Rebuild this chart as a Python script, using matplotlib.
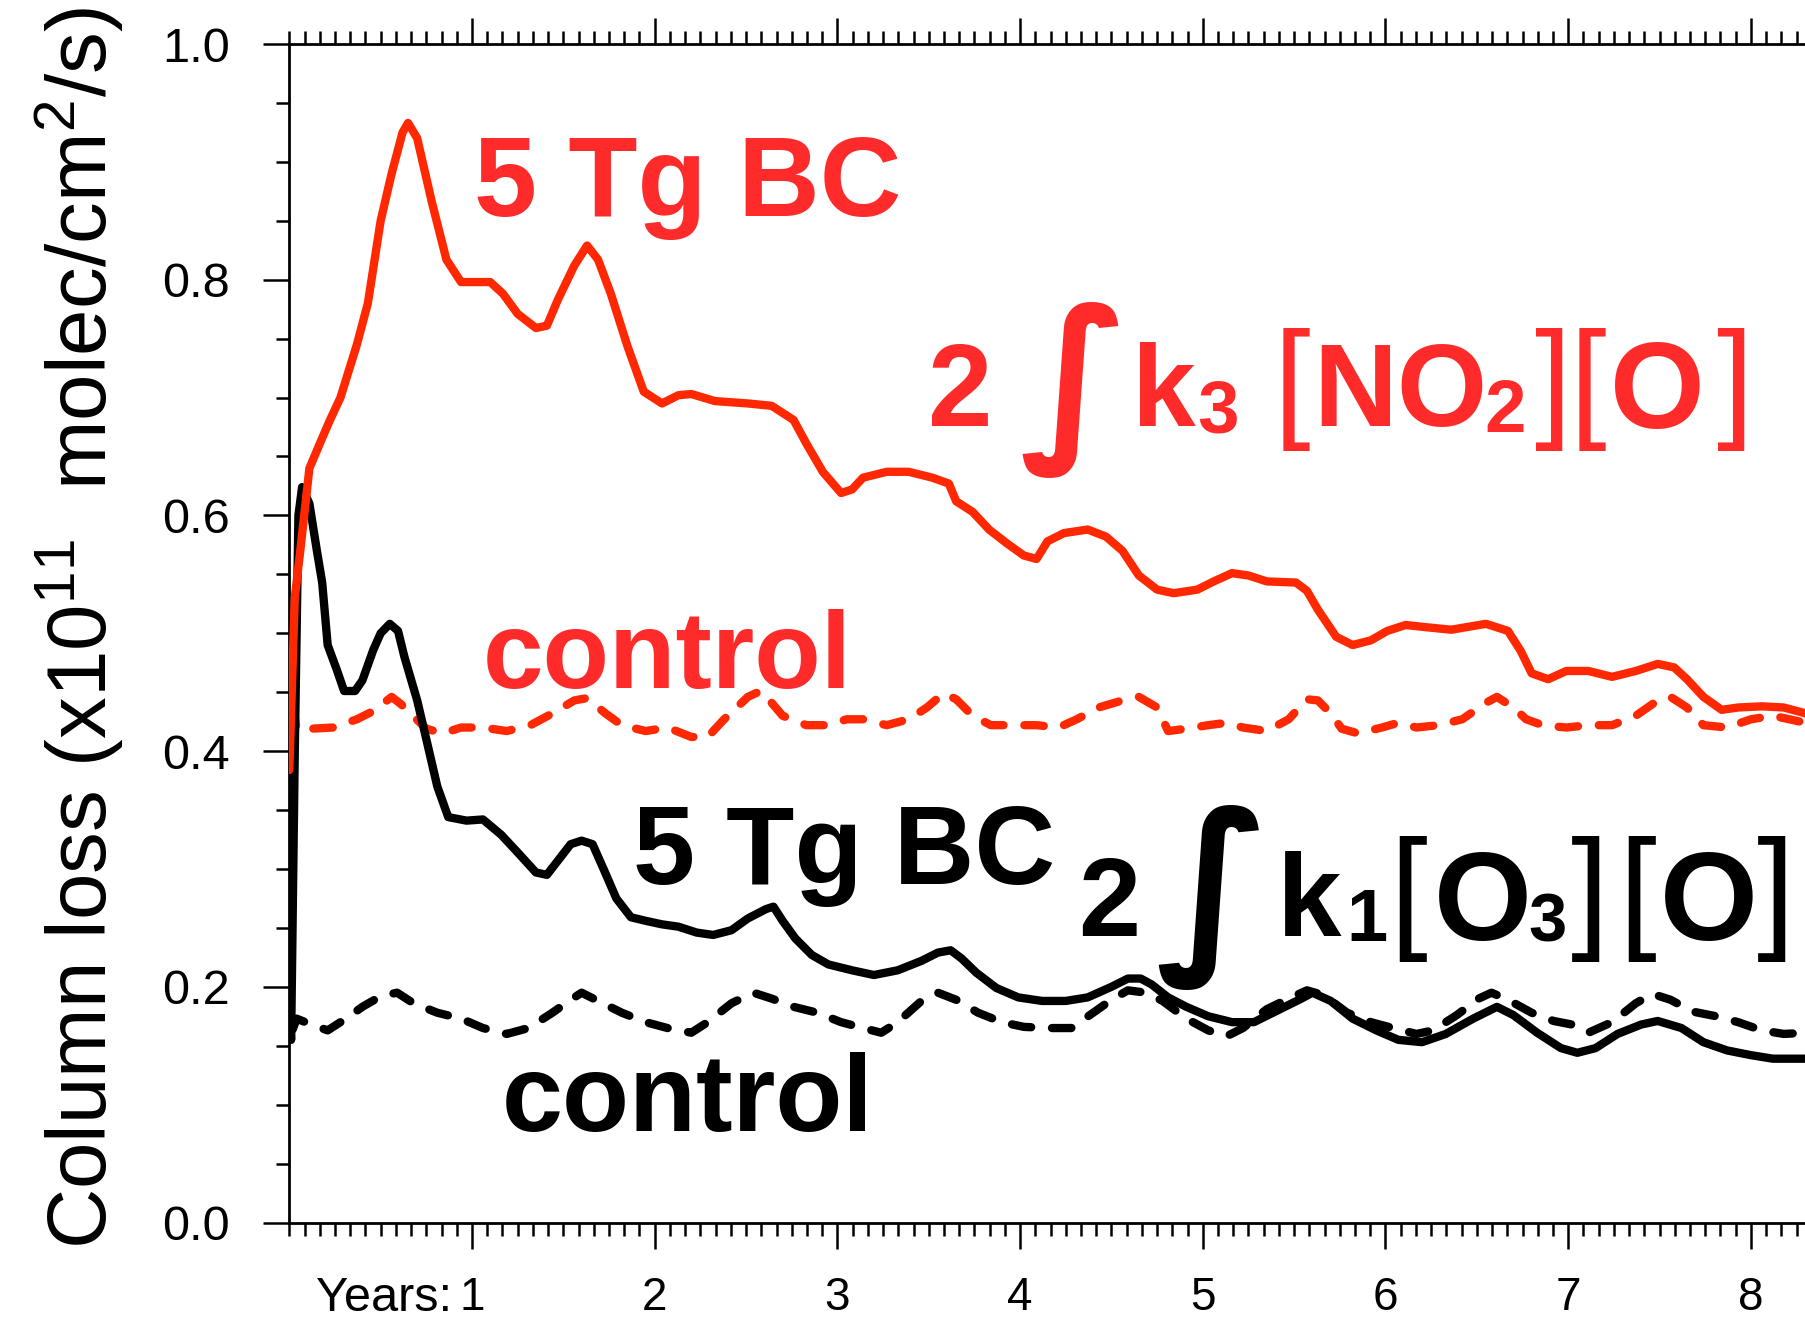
import numpy as np
import matplotlib
matplotlib.use("Agg")
import matplotlib.pyplot as plt
from matplotlib.textpath import TextPath
from matplotlib.font_manager import FontProperties, fontManager
from matplotlib.ticker import MultipleLocator, FixedLocator, FixedFormatter

# ---------------------------------------------------------------------------
# Column loss of odd oxygen (x1e11 molec/cm2/s) vs. model year
# (year, value) samples for each run
# ---------------------------------------------------------------------------
no2_bc = [
    (0.00, 0.384), (0.03, 0.530), (0.06, 0.570), (0.11, 0.640), (0.17, 0.662),
    (0.22, 0.680), (0.28, 0.700), (0.37, 0.745), (0.43, 0.780), (0.50, 0.850),
    (0.56, 0.890), (0.62, 0.925), (0.65, 0.933), (0.70, 0.920), (0.78, 0.866),
    (0.86, 0.817), (0.94, 0.798), (1.03, 0.798), (1.10, 0.798), (1.17, 0.788),
    (1.25, 0.771), (1.35, 0.759), (1.41, 0.761), (1.47, 0.783), (1.56, 0.812),
    (1.63, 0.829), (1.69, 0.817), (1.76, 0.788), (1.85, 0.744), (1.94, 0.705),
    (2.04, 0.695), (2.13, 0.702), (2.20, 0.703), (2.33, 0.697), (2.51, 0.695),
    (2.64, 0.693), (2.76, 0.681), (2.83, 0.661), (2.92, 0.637), (3.02, 0.619),
    (3.08, 0.622), (3.14, 0.632), (3.27, 0.637), (3.39, 0.637), (3.52, 0.632),
    (3.61, 0.627), (3.65, 0.612), (3.74, 0.603), (3.83, 0.588), (3.93, 0.576),
    (4.02, 0.566), (4.09, 0.563), (4.15, 0.578), (4.24, 0.585), (4.37, 0.588),
    (4.47, 0.582), (4.56, 0.570), (4.65, 0.549), (4.75, 0.537), (4.84, 0.534),
    (4.97, 0.537), (5.06, 0.544), (5.16, 0.551), (5.25, 0.549), (5.35, 0.544),
    (5.51, 0.543), (5.57, 0.536), (5.63, 0.520), (5.73, 0.497), (5.82, 0.490),
    (5.92, 0.494), (6.01, 0.502), (6.11, 0.507), (6.23, 0.505), (6.36, 0.503),
    (6.55, 0.508), (6.67, 0.502), (6.74, 0.485), (6.80, 0.466), (6.89, 0.461),
    (6.99, 0.468), (7.11, 0.468), (7.24, 0.463), (7.37, 0.468), (7.49, 0.474),
    (7.58, 0.471), (7.65, 0.461), (7.74, 0.446), (7.84, 0.435), (7.93, 0.437),
    (8.06, 0.438), (8.18, 0.437), (8.30, 0.432),
]

no2_control = [
    (0.00, 0.384), (0.015, 0.445), (0.04, 0.418), (0.12, 0.419), (0.24, 0.420),
    (0.37, 0.427), (0.46, 0.434), (0.56, 0.446), (0.61, 0.440), (0.65, 0.434),
    (0.75, 0.419), (0.84, 0.415), (0.94, 0.420), (1.06, 0.420), (1.19, 0.417),
    (1.32, 0.422), (1.44, 0.432), (1.56, 0.443), (1.63, 0.445), (1.73, 0.432),
    (1.82, 0.422), (1.95, 0.417), (2.07, 0.420), (2.20, 0.412), (2.29, 0.412),
    (2.38, 0.427), (2.51, 0.446), (2.58, 0.451), (2.64, 0.441), (2.70, 0.430),
    (2.83, 0.422), (2.95, 0.422), (3.05, 0.427), (3.14, 0.427), (3.27, 0.422),
    (3.39, 0.427), (3.49, 0.437), (3.58, 0.449), (3.65, 0.444), (3.74, 0.430),
    (3.84, 0.422), (3.96, 0.422), (4.09, 0.422), (4.21, 0.420), (4.31, 0.427),
    (4.43, 0.437), (4.56, 0.443), (4.65, 0.446), (4.75, 0.437), (4.81, 0.417),
    (4.91, 0.419), (5.03, 0.422), (5.13, 0.424), (5.22, 0.420), (5.35, 0.417),
    (5.47, 0.427), (5.57, 0.444), (5.63, 0.443), (5.70, 0.432), (5.76, 0.419),
    (5.85, 0.415), (5.98, 0.420), (6.07, 0.424), (6.17, 0.420), (6.29, 0.422),
    (6.42, 0.427), (6.55, 0.441), (6.61, 0.446), (6.70, 0.437), (6.77, 0.427),
    (6.86, 0.422), (6.99, 0.420), (7.11, 0.422), (7.24, 0.422), (7.37, 0.430),
    (7.49, 0.443), (7.56, 0.446), (7.65, 0.437), (7.74, 0.422), (7.87, 0.420),
    (8.00, 0.427), (8.12, 0.430), (8.30, 0.424),
]

o3_bc = [
    (0.00, 0.190), (0.01, 0.155), (0.03, 0.400), (0.05, 0.600), (0.07, 0.624),
    (0.11, 0.610), (0.15, 0.571), (0.18, 0.543), (0.21, 0.490), (0.26, 0.469),
    (0.30, 0.451), (0.36, 0.451), (0.40, 0.460), (0.46, 0.486), (0.50, 0.500),
    (0.55, 0.508), (0.595, 0.502), (0.63, 0.480), (0.70, 0.443), (0.75, 0.410),
    (0.81, 0.370), (0.87, 0.344), (0.97, 0.341), (1.06, 0.342), (1.16, 0.329),
    (1.25, 0.314), (1.35, 0.297), (1.41, 0.295), (1.47, 0.307), (1.54, 0.321),
    (1.60, 0.324), (1.66, 0.321), (1.72, 0.300), (1.79, 0.275), (1.87, 0.259),
    (1.95, 0.256), (2.04, 0.253), (2.13, 0.251), (2.23, 0.246), (2.32, 0.244),
    (2.42, 0.248), (2.51, 0.258), (2.61, 0.266), (2.65, 0.268), (2.70, 0.256),
    (2.77, 0.241), (2.86, 0.227), (2.95, 0.219), (3.08, 0.214), (3.20, 0.210),
    (3.33, 0.214), (3.46, 0.222), (3.55, 0.229), (3.62, 0.231), (3.68, 0.224),
    (3.76, 0.212), (3.87, 0.199), (3.99, 0.191), (4.12, 0.188), (4.25, 0.188),
    (4.37, 0.191), (4.50, 0.200), (4.59, 0.207), (4.66, 0.207), (4.72, 0.202),
    (4.81, 0.191), (4.91, 0.183), (5.03, 0.175), (5.16, 0.170), (5.28, 0.170),
    (5.41, 0.180), (5.54, 0.190), (5.60, 0.195), (5.70, 0.188), (5.82, 0.173),
    (5.95, 0.163), (6.07, 0.155), (6.20, 0.153), (6.33, 0.160), (6.48, 0.173),
    (6.61, 0.183), (6.70, 0.176), (6.83, 0.161), (6.96, 0.148), (7.05, 0.144),
    (7.15, 0.148), (7.27, 0.160), (7.40, 0.168), (7.49, 0.171), (7.62, 0.165),
    (7.74, 0.153), (7.87, 0.146), (8.00, 0.142), (8.12, 0.139), (8.30, 0.139),
]

o3_control = [
    (0.00, 0.190), (0.01, 0.160), (0.04, 0.173), (0.12, 0.168), (0.21, 0.163),
    (0.31, 0.173), (0.40, 0.183), (0.50, 0.192), (0.59, 0.195), (0.68, 0.186),
    (0.81, 0.178), (0.94, 0.173), (1.06, 0.165), (1.19, 0.160), (1.31, 0.165),
    (1.44, 0.178), (1.54, 0.189), (1.60, 0.195), (1.69, 0.188), (1.82, 0.178),
    (1.95, 0.170), (2.07, 0.165), (2.20, 0.161), (2.29, 0.170), (2.42, 0.186),
    (2.54, 0.195), (2.64, 0.190), (2.76, 0.183), (2.89, 0.178), (3.02, 0.170),
    (3.14, 0.165), (3.24, 0.161), (3.33, 0.170), (3.46, 0.188), (3.55, 0.195),
    (3.65, 0.189), (3.77, 0.178), (3.90, 0.170), (4.02, 0.166), (4.15, 0.165),
    (4.28, 0.165), (4.40, 0.178), (4.50, 0.189), (4.59, 0.197), (4.69, 0.195),
    (4.78, 0.188), (4.91, 0.173), (5.03, 0.163), (5.13, 0.158), (5.22, 0.165),
    (5.35, 0.181), (5.47, 0.190), (5.57, 0.197), (5.66, 0.193), (5.79, 0.178),
    (5.92, 0.170), (6.04, 0.165), (6.17, 0.160), (6.26, 0.163), (6.39, 0.176),
    (6.51, 0.190), (6.58, 0.195), (6.67, 0.189), (6.80, 0.178), (6.92, 0.171),
    (7.02, 0.168), (7.11, 0.161), (7.24, 0.170), (7.37, 0.186), (7.46, 0.194),
    (7.56, 0.189), (7.68, 0.179), (7.81, 0.175), (7.93, 0.170), (8.06, 0.163),
    (8.18, 0.160), (8.30, 0.161),
]

year_ticks = [1, 2, 3, 4, 5, 6, 7, 8]
year_labels = ["1", "2", "3", "4", "5", "6", "7", "8"]
y_ticks = [0.0, 0.2, 0.4, 0.6, 0.8, 1.0]
y_labels = ["0.0", "0.2", "0.4", "0.6", "0.8", "1.0"]

RED_LINE = "#ff2800"
RED_TEXT = "#ff2b2b"
BLACK = "#000000"

# ---------------------------------------------------------------------------
W, H, DPI = 1805, 1318, 100
plt.rcParams["lines.scale_dashes"] = False
plt.rcParams["mathtext.default"] = "regular"

installed = {f.name for f in fontManager.ttflist}
SANS = "Liberation Sans" if "Liberation Sans" in installed else "DejaVu Sans"
NARROW = "Liberation Sans Narrow" if "Liberation Sans Narrow" in installed else SANS
INTEGRAL_FONT = "DejaVu Sans"

fig = plt.figure(figsize=(W / DPI, H / DPI), dpi=DPI)
ax_left, ax_bottom, ax_top = 289.3, 1222.5, 44.0      # pixel frame of the plot box
px_per_year = 182.7
ax = fig.add_axes([ax_left / W, 1 - ax_bottom / H,
                   1 - ax_left / W, (ax_bottom - ax_top) / H])
ax.set_xlim(0, (W - ax_left) / px_per_year)
ax.set_ylim(0, 1)


def xy(series):
    a = np.array(series)
    return a[:, 0], a[:, 1]


LW = 6.0
dash = (14.0, 15.0)
t, v = xy(o3_control)
ax.plot(t, v, color=BLACK, lw=LW, dashes=dash, dash_capstyle="round",
        dash_joinstyle="round", zorder=3)
t, v = xy(no2_control)
ax.plot(t, v, color=RED_LINE, lw=LW, dashes=dash, dash_capstyle="round",
        dash_joinstyle="round", zorder=3)
t, v = xy(o3_bc)
ax.plot(t, v, color=BLACK, lw=LW, solid_capstyle="round",
        solid_joinstyle="round", zorder=4)
t, v = xy(no2_bc)
ax.plot(t, v, color=RED_LINE, lw=LW, solid_capstyle="round",
        solid_joinstyle="round", zorder=5)

# frame and ticks
for s in ("left", "bottom", "top"):
    ax.spines[s].set_linewidth(2.0)
ax.spines["right"].set_visible(False)
ax.xaxis.set_major_locator(FixedLocator(year_ticks))
ax.xaxis.set_major_formatter(FixedFormatter(year_labels))
ax.xaxis.set_minor_locator(MultipleLocator(1 / 12))
ax.yaxis.set_major_locator(FixedLocator(y_ticks))
ax.yaxis.set_major_formatter(FixedFormatter(y_labels))
ax.yaxis.set_minor_locator(MultipleLocator(0.05))
ax.tick_params(which="both", direction="out", top=True, right=False,
               labeltop=False, width=1.8, color="black")
ax.tick_params(which="major", length=18.7)
ax.tick_params(which="minor", length=9.4)
ax.tick_params(axis="y", which="major", pad=24, labelsize=35)
ax.tick_params(axis="x", which="major", pad=20, labelsize=33)
for lab in ax.get_xticklabels() + ax.get_yticklabels():
    lab.set_fontfamily(SANS)

ax.annotate("Years:", xy=(1, 0), xycoords=("data", "axes fraction"),
            xytext=(-14, -(18.7 + 20)), textcoords="offset points",
            ha="right", va="top", fontsize=35, family=SANS)

# y-axis title, sized to span the full height of the frame
ylab = fig.text(107 / W, 1 - 628.5 / H,
                r"Column loss (x10$^{11}$  molec/cm$^{2}$/s)",
                rotation=90, rotation_mode="anchor", ha="center", va="baseline",
                fontsize=70, family=NARROW)
fig.canvas.draw()
bb = ylab.get_window_extent(fig.canvas.get_renderer())
ylab.set_fontsize(70 * 1241 / bb.height)

PT_PER_PX = 72 / DPI


def ink(s, family, weight):
    fp = FontProperties(family=family, weight=weight, size=100)
    return TextPath((0, 0), s, prop=fp).get_extents()


def put_text(s, left, top, base, color, family=SANS, weight="bold"):
    """Text whose ink spans from `top` down to the baseline `base` (pixels from top)."""
    e = ink(s, family, weight)
    size = 100 * (base - top) * PT_PER_PX / e.y1
    k = size / 100 / PT_PER_PX
    fig.text((left - e.x0 * k) / W, 1 - base / H, s, fontsize=size,
             family=family, weight=weight, color=color, ha="left", va="baseline")


def put_glyph(s, left, top, bottom, color, family=SANS, weight="normal",
              center=None):
    """Text whose full ink box spans from `top` to `bottom` (pixels from top).
    If `center` is given, the ink is centred there instead of starting at `left`."""
    e = ink(s, family, weight)
    size = 100 * (bottom - top) * PT_PER_PX / (e.y1 - e.y0)
    k = size / 100 / PT_PER_PX
    base = bottom + e.y0 * k
    if center is not None:
        left = center - 0.5 * (e.x1 - e.x0) * k
    fig.text((left - e.x0 * k) / W, 1 - base / H, s, fontsize=size,
             family=family, weight=weight, color=color, ha="left", va="baseline")


# run labels
put_text("5 Tg BC", 477.7, 137, 216, RED_TEXT)
put_text("control", 487, 609, 688, RED_TEXT)
put_text("5 Tg BC", 636.6, 806, 884, BLACK)
put_text("control", 506.5, 1052, 1131.5, BLACK)

# 2 ∫ k3 [NO2][O]
put_text("2", 932, 345, 426, RED_TEXT)
put_glyph("\u222b", 0, 302, 478, RED_TEXT, family=INTEGRAL_FONT, weight="bold",
          center=1070)
put_text("k", 1140, 343, 426, RED_TEXT)
put_text("3", 1199, 380, 432, RED_TEXT)
put_glyph("[", 1283, 328, 451, RED_TEXT)
put_text("NO", 1321, 345, 426, RED_TEXT)
put_text("2", 1487, 380, 432, RED_TEXT)
put_glyph("]", 1536, 328, 451, RED_TEXT)
put_glyph("[", 1579, 328, 451, RED_TEXT)
put_text("O", 1615, 343, 428, RED_TEXT)
put_glyph("]", 1718, 328, 451, RED_TEXT)

# 2 ∫ k1[O3][O]
put_text("2", 1082, 858, 936, BLACK)
put_glyph("\u222b", 0, 806, 990, BLACK, family=INTEGRAL_FONT, weight="bold",
          center=1208)
put_text("k", 1285, 852, 936, BLACK)
put_text("1", 1351, 890, 941, BLACK)
put_glyph("[", 1399, 835, 962, BLACK)
put_text("O", 1439, 852, 940, BLACK)
put_text("3", 1530, 893, 941, BLACK)
put_glyph("]", 1572, 835, 962, BLACK)
put_glyph("[", 1628, 835, 962, BLACK)
put_text("O", 1665, 852, 940, BLACK)
put_glyph("]", 1758, 835, 962, BLACK)

fig.savefig("out.png", dpi=DPI)
